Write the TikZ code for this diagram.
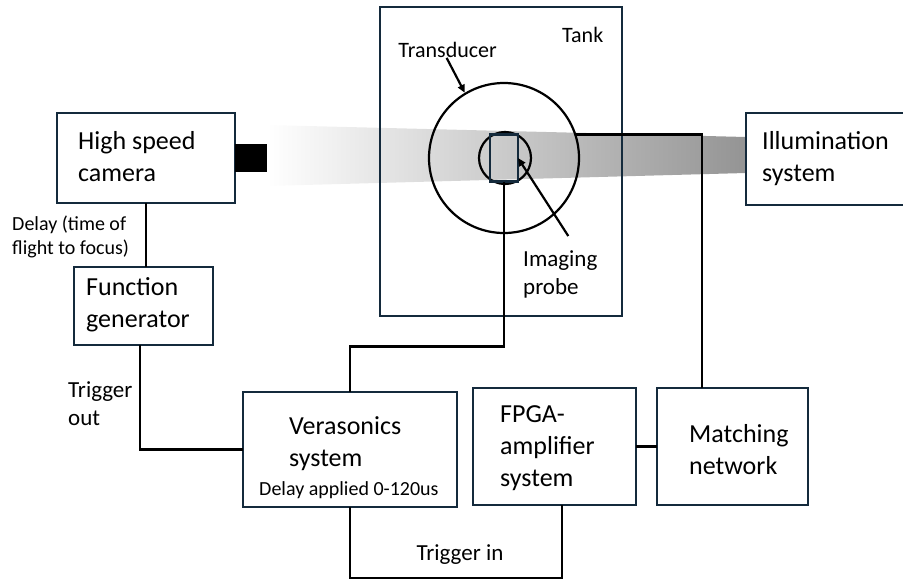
\documentclass[tikz,border=0pt]{standalone}
\usepackage{fontspec}
\setmainfont{Carlito}
\definecolor{boxnavy}{RGB}{20,42,60}
\usetikzlibrary{
  arrows.meta,
  calc,
  positioning,
}
\tikzset{
  >={Triangle[length=8pt,width=7pt]},
  unit/.style={draw=boxnavy, line width=2.2pt, fill=white, inner sep=0pt, outer sep=0pt},
  wire/.style={line width=2.2pt, black},
  big/.style={align=left, inner sep=0pt, font=\fontsize{26}{32}\selectfont},
  note/.style={align=left, inner sep=0pt, font=\fontsize{23}{28}\selectfont},
  small/.style={align=left, inner sep=0pt, font=\fontsize{20}{24}\selectfont},
}

\begin{document}
\begin{tikzpicture}[x=1pt, y=-1pt]
  \useasboundingbox (0,0) rectangle (903,581);

  % light path from illumination to camera
  \shade [left color=white, right color=black!42]
    (267,125) -- (746,137) -- (746,173) -- (267,186) -- cycle;

  % tank with transducer and probe
  \draw [draw=boxnavy, line width=2.2pt] (380,7) rectangle (622,316);
  \node [circle, draw, line width=2.2pt, minimum size=150, inner sep=0pt] (xdcr) at (504,158) {};
  \node [circle, draw, line width=2.2pt, minimum size=52, inner sep=0pt] (focus) at (505,158) {};
  \node [unit, fill=none, minimum width=28, minimum height=47] (probe) at (504,158) {};
  \node [note, font=\fontsize{22}{26}\selectfont, anchor=east] (xdcr-t) at (497,50) {Transducer};
  \node [note, font=\fontsize{22}{26}\selectfont, anchor=west] (tank-t) at (562,35) {Tank};
  \node [note, anchor=west] (probe-t) at (523,274) {Imaging\\probe};
  \draw [wire, ->] ([xshift=-1]xdcr-t.south) -- (xdcr.121);
  \draw [wire, ->] ($(probe-t.north)+(8,-14)$) -- (probe.east);

  % camera
  \node [unit, minimum width=178, minimum height=90] (cam) at (146,158) {};
  \node [big, anchor=west] (cam-t) at ($(cam.west)+(21,-1)$) {High speed\\camera};
  \fill (235,144) rectangle (267,172);

  % illumination
  \node [unit, minimum width=170, minimum height=92] (illum) at (831,159) {};
  \node [big, anchor=west] (illum-t) at ($(illum.west)+(16,0)$) {Illumination\\system};

  % function generator
  \node [unit, minimum width=139, minimum height=78] (fgen) at (143.5,306) {};
  \node [big, anchor=west] (fgen-t) at ($(fgen.west)+(12,-1)$) {Function\\generator};

  % bottom row
  \node [unit, minimum width=214, minimum height=115] (vera) at (350,449.5) {};
  \node [big, anchor=west] (vera-t) at ($(vera.west)+(46,-5.5)$) {Verasonics\\system};
  \node [small, anchor=west] (vera-d) at ($(vera.west)+(16,40.5)$) {Delay applied 0-120us};
  \node [unit, minimum width=163, minimum height=117] (fpga) at (554.5,446.5) {};
  \node [big, anchor=west] (fpga-t) at ($(fpga.west)+(27,1.5)$) {FPGA-\\amplifier\\system};
  \node [unit, minimum width=151, minimum height=117] (match) at (732.5,446.5) {};
  \node [big, anchor=west] (match-t) at ($(match.west)+(32,3.5)$) {Matching\\network};

  % wiring
  \draw [wire] (cam.south) -- (cam.south |- fgen.north);
  \node [small, anchor=west] (delay-t) at (12,237) {Delay (time of\\flight to focus)};
  \draw [wire] ([xshift=-3.5]fgen.south) |- (vera.west);
  \node [note, anchor=west] (trigout-t) at (68,404) {Trigger\\out};
  \draw [wire] (probe.south) -- ++(0,165) -| (vera.north);
  \draw [wire] (xdcr.18) -| ([xshift=-30.5]match.north);
  \draw [wire] (fpga.east) -- (match.west);
  \draw [wire] (vera.south) -- ++(0,71) -| ([xshift=7.5]fpga.south);
  \node [note] (trigin-t) at (460,555) {Trigger in};
\end{tikzpicture}
\end{document}
